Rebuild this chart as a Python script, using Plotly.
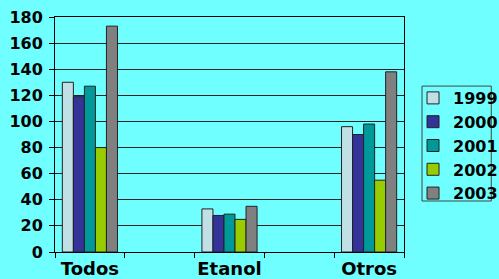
import plotly.graph_objects as go

categories = ["Todos", " ", "Etanol", "  ", "Otros"]
years = ["1999", "2000", "2001", "2002", "2003"]
v1999 = [130, None, 33, None, 96]
v2000 = [119, None, 28, None, 90]
v2001 = [127, None, 29, None, 98]
v2002 = [80, None, 25, None, 55]
v2003 = [173, None, 35, None, 138]
colors = ["#C0E0E6", "#333399", "#009999", "#99CC00", "#808080"]

series = [v1999, v2000, v2001, v2002, v2003]
bg = "#6FFFFF"
font = dict(family="DejaVu Sans", weight="bold", color="black")

fig = go.Figure()
for name, vals, col in zip(years, series, colors):
    fig.add_trace(go.Bar(x=categories, y=vals, name=name,
                         marker=dict(color=col, line=dict(color="#222222", width=1))))

fig.update_layout(
    width=499, height=279,
    paper_bgcolor=bg, plot_bgcolor=bg,
    margin=dict(l=55, r=95, t=17, b=27, autoexpand=False),
    barmode="group", bargap=0.21, bargroupgap=0,
    font=dict(size=16, **font),
    legend=dict(xref="container", yref="container", x=0.8277, y=0.7097,
                xanchor="left", yanchor="top",
                bgcolor="rgba(0,0,0,0)", borderwidth=0,
                font=dict(size=16, **font), itemwidth=30),
    showlegend=True,
    shapes=[dict(type="rect", xref="paper", yref="paper",
                 x0=1.0516, x1=1.25, y0=0.217, y1=0.706,
                 line=dict(color="#444444", width=1), fillcolor="rgba(0,0,0,0)")],
)
fig.update_xaxes(type="category", categoryorder="array", categoryarray=categories,
                 showline=True, linecolor="black", linewidth=1, mirror=True,
                 ticks="outside", tickson="boundaries", ticklen=5, tickcolor="black",
                 tickangle=0, tickfont=dict(size=18, **font), showgrid=False)
fig.update_yaxes(range=[0, 180], dtick=20, showgrid=True, gridcolor="#222222", gridwidth=1,
                 showline=True, linecolor="black", linewidth=1, mirror=True,
                 ticks="outside", ticklen=5, tickcolor="black", ticklabelstandoff=3,
                 tickfont=dict(size=16, **font), zeroline=False)

fig.write_html("out.html", config={"displayModeBar": False},
               post_script="document.body.style.margin='0';document.body.style.background='" + bg + "';")
